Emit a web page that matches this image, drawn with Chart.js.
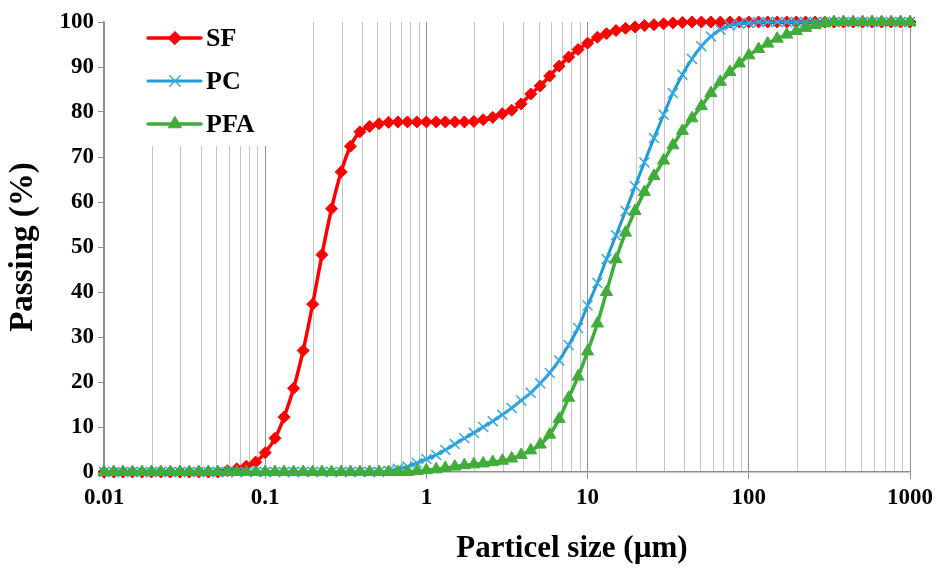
<!DOCTYPE html>
<html>
<head>
<meta charset="utf-8">
<script src="https://cdn.jsdelivr.net/npm/chart.js@4.4.0/dist/chart.umd.min.js"></script>
<style>
  html, body { margin: 0; padding: 0; background: #fff; }
  #wrap { width: 938px; height: 571px; }
</style>
</head>
<body>
<div id="wrap"><canvas id="psdChart"></canvas></div>
<script>
// particle sizes (µm)
const sizes = [
  0.01, 0.0115, 0.0131, 0.0150, 0.0172, 0.0197, 0.0225, 0.0258, 0.0296, 0.0338, 0.0387, 0.0444, 0.0508, 0.0582, 0.0666, 0.0763, 0.0873,
  0.1, 0.115, 0.131, 0.150, 0.172, 0.197, 0.225, 0.258, 0.296, 0.338, 0.387, 0.444, 0.508, 0.582, 0.666, 0.763, 0.873,
  1, 1.15, 1.31, 1.50, 1.72, 1.97, 2.25, 2.58, 2.96, 3.38, 3.87, 4.44, 5.08, 5.82, 6.66, 7.63, 8.73,
  10, 11.5, 13.1, 15.0, 17.2, 19.7, 22.5, 25.8, 29.6, 33.8, 38.7, 44.4, 50.8, 58.2, 66.6, 76.3, 87.3,
  100, 115, 131, 150, 172, 197, 225, 258, 296, 338, 387, 444, 508, 582, 666, 763, 873, 1000
];

// cumulative passing (%)
const sf = [
  0, 0, 0, 0, 0, 0, 0, 0, 0, 0, 0, 0, 0, 0.3, 0.7, 1.3, 2.2,
  4.3, 7.5, 12.2, 18.6, 27.0, 37.3, 48.3, 58.5, 66.7, 72.4, 75.6, 76.8, 77.4, 77.7, 77.8, 77.8, 77.8,
  77.8, 77.8, 77.8, 77.8, 77.8, 77.9, 78.3, 78.8, 79.6, 80.4, 81.8, 84.0, 85.8, 88.0, 90.2, 92.2, 93.9,
  95.3, 96.6, 97.4, 98.1, 98.6, 98.9, 99.2, 99.4, 99.6, 99.8, 99.9, 100, 100, 100, 100, 100, 100,
  100, 100, 100, 100, 100, 100, 100, 100, 100, 100, 100, 100, 100, 100, 100, 100, 100, 100
];
const pc = [
  0, 0, 0, 0, 0, 0, 0, 0, 0, 0, 0, 0, 0, 0, 0, 0, 0,
  0, 0, 0, 0, 0, 0, 0, 0, 0, 0, 0, 0, 0, 0.3, 0.7, 1.2, 2.0,
  2.9, 3.8, 4.9, 6.2, 7.5, 8.7, 10.0, 11.3, 12.7, 14.2, 15.9, 17.6, 19.7, 22.0, 24.8, 28.2, 32.0,
  37.0, 42.0, 47.3, 52.6, 58.0, 63.5, 68.8, 74.2, 79.4, 84.2, 88.3, 91.8, 94.6, 96.8, 98.3, 99.2, 99.6,
  99.8, 100, 100, 100, 100, 100, 100, 100, 100, 100, 100, 100, 100, 100, 100, 100, 100, 100
];
const pfa = [
  0, 0, 0, 0, 0, 0, 0, 0, 0, 0, 0, 0, 0, 0, 0, 0, 0,
  0, 0, 0, 0, 0, 0, 0, 0, 0, 0, 0, 0, 0, 0, 0, 0, 0.2,
  0.4, 0.6, 0.9, 1.2, 1.5, 1.7, 1.9, 2.2, 2.5, 3.0, 3.8, 4.8, 6.1, 8.3, 11.8, 16.5, 21.2,
  26.8, 33.0, 40.0, 47.3, 53.2, 58.0, 62.2, 65.8, 69.2, 72.6, 75.8, 78.6, 81.3, 84.2, 86.7, 88.9, 90.8,
  92.6, 94.0, 95.2, 96.3, 97.2, 98.0, 98.7, 99.3, 99.7, 100, 100, 100, 100, 100, 100, 100, 100, 100
];

const decades = [0.01, 0.1, 1, 10, 100, 1000];
const seriesNames = ['SF', 'PC', 'PFA'];
const serif = '"Liberation Serif", "Times New Roman", serif';

// grid lines at 1..9 x each decade, labels only on the decades
const gridValues = [];
decades.forEach((d, i) => {
  const last = i === decades.length - 1;
  for (let m = 1; m <= (last ? 1 : 9); m++) {
    gridValues.push({ value: d * m, major: m === 1 });
  }
});

const toPoints = arr => sizes.map((x, i) => ({ x: x, y: arr[i] }));

// white legend panel sitting on the plot, like the Excel one
const legendBox = {
  id: 'legendBox',
  beforeDatasetsDraw(chart) {
    const { ctx, chartArea } = chart;
    const left = chartArea.left, top = chartArea.top;
    ctx.save();
    ctx.fillStyle = '#fff';
    ctx.fillRect(left + 1, top, 168, 124);
    chart.data.datasets.forEach((ds, i) => {
      const y = top + 16 + i * 43;
      ctx.strokeStyle = ds.borderColor;
      ctx.lineWidth = ds.borderWidth;
      ctx.lineCap = 'round';
      ctx.beginPath();
      ctx.moveTo(left + 44, y);
      ctx.lineTo(left + 97, y);
      ctx.stroke();
      ctx.fillStyle = ds.pointBackgroundColor;
      ctx.strokeStyle = ds.pointBorderColor;
      ctx.lineWidth = ds.pointBorderWidth;
      Chart.helpers.drawPoint(ctx, {
        pointStyle: ds.pointStyle, radius: ds.pointRadius + 0.5,
        borderWidth: ds.pointBorderWidth, rotation: 0
      }, left + 71, y);
      ctx.fillStyle = '#000';
      ctx.font = 'bold 26px ' + serif;
      ctx.textAlign = 'left';
      ctx.textBaseline = 'middle';
      ctx.fillText(ds.label, left + 102, y + 1);
    });
    ctx.restore();
  }
};

const xTitle = {
  id: 'xTitle',
  afterDraw(chart) {
    const { ctx } = chart;
    ctx.save();
    ctx.fillStyle = '#000';
    ctx.font = 'bold 31px ' + serif;
    ctx.textAlign = 'center';
    ctx.textBaseline = 'middle';
    ctx.fillText('Particel size (µm)', 572, 549);
    ctx.restore();
  }
};

const ctx = document.getElementById('psdChart').getContext('2d');

new Chart(ctx, {
  type: 'line',
  data: {
    datasets: [
      {
        label: seriesNames[0], data: toPoints(sf), order: 2,
        borderColor: '#ff0000', borderWidth: 3.5,
        pointStyle: 'rectRot', pointRadius: 6,
        pointBackgroundColor: '#ff0000', pointBorderColor: '#ff0000', pointBorderWidth: 1
      },
      {
        label: seriesNames[1], data: toPoints(pc), order: 1,
        borderColor: '#1f9bd8', borderWidth: 3,
        pointStyle: 'crossRot', pointRadius: 7,
        pointBackgroundColor: '#38a8e6', pointBorderColor: '#38a8e6', pointBorderWidth: 1.5
      },
      {
        label: seriesNames[2], data: toPoints(pfa), order: 0,
        borderColor: '#40ad3a', borderWidth: 3.5,
        pointStyle: 'triangle', pointRadius: 7,
        pointBackgroundColor: '#40ad3a', pointBorderColor: '#40ad3a', pointBorderWidth: 1
      }
    ]
  },
  options: {
    responsive: true,
    maintainAspectRatio: false,
    animation: false,
    layout: { padding: { top: 22, right: 28, left: 0, bottom: 0 } },
    elements: { line: { cubicInterpolationMode: 'monotone' } },
    datasets: { line: { clip: false } },
    plugins: {
      legend: { display: false },
      tooltip: { enabled: false }
    },
    scales: {
      x: {
        type: 'logarithmic',
        min: 0.01,
        max: 1000,
        afterBuildTicks: s => { s.ticks = gridValues.map(t => ({ value: t.value, major: t.major })); },
        afterFit: s => { s.height = 99; },
        grid: {
          color: c => (c.tick && c.tick.major) ? '#8f8f8f' : '#c4c4c4',
          tickColor: c => (c.tick && c.tick.major) ? '#8f8f8f' : 'rgba(0,0,0,0)',
          tickLength: 7,
          lineWidth: 1
        },
        border: { color: '#8f8f8f', width: 1.5 },
        ticks: {
          autoSkip: false, maxRotation: 0, padding: 5, color: '#000',
          font: { family: serif, size: 23, weight: 'bold' },
          callback: (v, i, ts) => ts[i].major ? String(v) : ''
        }
      },
      y: {
        min: 0,
        max: 100,
        afterFit: s => { s.width = 104; },
        grid: { drawOnChartArea: false, tickLength: 6, color: '#8f8f8f' },
        border: { color: '#8f8f8f', width: 1.5 },
        ticks: {
          stepSize: 10, padding: 4, color: '#000',
          font: { family: serif, size: 23, weight: 'bold' }
        },
        title: {
          display: true, text: 'Passing (%)', color: '#000',
          font: { family: serif, size: 33, weight: 'bold' },
          padding: { top: 4, bottom: 0 }
        }
      }
    }
  },
  plugins: [legendBox, xTitle]
});
</script>
</body>
</html>
